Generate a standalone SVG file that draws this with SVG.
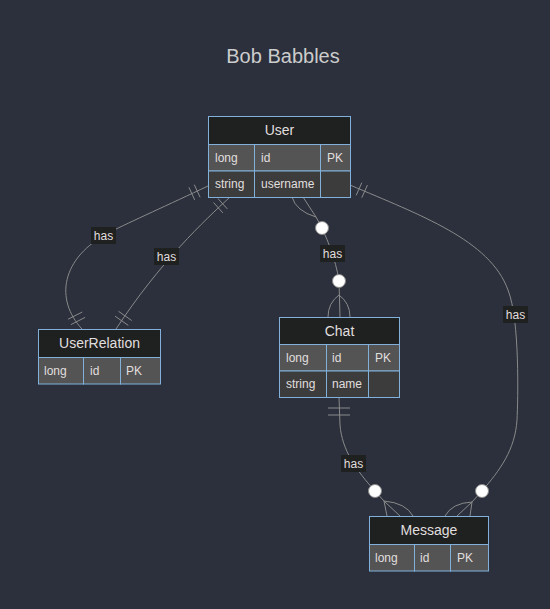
<svg xmlns="http://www.w3.org/2000/svg" width="550" height="609" viewBox="0 0 550 609">
<style>
.bg{fill:#2b303c}
.title{font-family:"Liberation Sans",Arial,sans-serif;font-size:20px;fill:#cccccc;text-anchor:middle}
.hdr{fill:#1f2020;stroke:#81b1db;stroke-width:1}
.r1{fill:#545454;stroke:#81b1db;stroke-width:1}
.r2{fill:#3c3c3c;stroke:#81b1db;stroke-width:1}
.hname{font-family:"Liberation Sans",Arial,sans-serif;font-size:14px;fill:#e0dfdf;text-anchor:middle}
.cell{font-family:"Liberation Sans",Arial,sans-serif;font-size:12px;fill:#e0dfdf}
.ln{fill:none;stroke:#8a8a8a;stroke-width:1}
.circ{fill:#ffffff;stroke:#8a8a8a;stroke-width:1}
.lbg{fill:#1f2020}
.lbl{font-family:"Liberation Sans",Arial,sans-serif;font-size:12px;fill:#e0dfdf;text-anchor:middle}
</style>
<rect class="bg" x="0" y="0" width="550" height="609"/>
<text class="title" x="283" y="63">Bob Babbles</text>

<g id="connectors">
  <!-- User -> UserRelation (left) -->
  <path class="ln" d="M208,186 C170,204 130,222 110,232 C60,258 55,300 82,329"/>
  <path class="ln" d="M194.3,184.7 L200.1,197.3 M188.9,187.3 L194.7,199.9"/>
  <path class="ln" d="M70.9,324.6 L85.1,317.4 M68.1,319.2 L82.3,312"/>
  <!-- User -> UserRelation (right) -->
  <path class="ln" d="M230,197 C205,220 160,262 116,329"/>
  <path class="ln" d="M217.9,198.5 L227.3,208.9 M213.5,202.5 L222.9,212.9"/>
  <path class="ln" d="M115.1,316.2 L128.3,325.4 M118.5,311.3 L131.7,320.5"/>
  <!-- User -> Chat -->
  <path class="ln" d="M303,197 L316,217 C326,234 336,260 339,281 L340,317"/>
  <path class="ln" d="M292,197 Q296,211 316,217"/>
  <path class="ln" d="M339,295 Q328,303 328,317 M339,295 Q350,303 350,317"/>
  <!-- Chat -> Message -->
  <path class="ln" d="M339,397 L340,425 C342,450 356,470 375,491 L384,501"/>
  <path class="ln" d="M328,408 L350,408 M328,415 L350,415"/>
  <path class="ln" d="M384,501 L387,516 M384,501 L400,516 M384,501 Q406,503 413,516"/>
  <!-- User -> Message (right) -->
  <path class="ln" d="M350,185 C420,215 490,240 508,290 C520,320 518,400 517,420 C515,450 500,470 482,491 L472,502"/>
  <path class="ln" d="M356.2,195.3 L361.8,182.7 M361.8,197.7 L367.4,185.1"/>
  <path class="ln" d="M472,502 Q452,503 445,516 M472,502 L457,516 M472,502 L470,516"/>
  <!-- circles -->
  <circle class="circ" cx="322" cy="228" r="6.5"/>
  <circle class="circ" cx="339" cy="281" r="6.5"/>
  <circle class="circ" cx="375" cy="491" r="6.5"/>
  <circle class="circ" cx="482" cy="491" r="6.5"/>
  <!-- labels -->
  <rect class="lbg" x="91" y="227" width="25" height="17"/>
  <text class="lbl" x="103.5" y="240">has</text>
  <rect class="lbg" x="154" y="248" width="25" height="17"/>
  <text class="lbl" x="166.5" y="261">has</text>
  <rect class="lbg" x="320" y="245" width="25" height="17"/>
  <text class="lbl" x="332.5" y="258">has</text>
  <rect class="lbg" x="341" y="455" width="25" height="17"/>
  <text class="lbl" x="353.5" y="468">has</text>
  <rect class="lbg" x="503" y="306" width="25" height="17"/>
  <text class="lbl" x="515.5" y="319">has</text>
</g>

<g id="User">
  <rect class="hdr" x="208.5" y="116.5" width="142" height="28"/>
  <text class="hname" x="279.5" y="135">User</text>
  <rect class="r1" x="208.5" y="144.5" width="46" height="26.5"/>
  <rect class="r1" x="254.5" y="144.5" width="66" height="26.5"/>
  <rect class="r1" x="320.5" y="144.5" width="30" height="26.5"/>
  <rect class="r2" x="208.5" y="171" width="46" height="26.5"/>
  <rect class="r2" x="254.5" y="171" width="66" height="26.5"/>
  <rect class="r2" x="320.5" y="171" width="30" height="26.5"/>
  <text class="cell" x="215" y="162">long</text>
  <text class="cell" x="261" y="162">id</text>
  <text class="cell" x="327" y="162">PK</text>
  <text class="cell" x="215" y="188">string</text>
  <text class="cell" x="261" y="188">username</text>
</g>

<g id="UserRelation">
  <rect class="hdr" x="38.5" y="329.5" width="122" height="28"/>
  <text class="hname" x="99.5" y="348">UserRelation</text>
  <rect class="r1" x="38.5" y="357.5" width="45" height="26.5"/>
  <rect class="r1" x="83.5" y="357.5" width="37" height="26.5"/>
  <rect class="r1" x="120.5" y="357.5" width="40" height="26.5"/>
  <text class="cell" x="44" y="375">long</text>
  <text class="cell" x="90" y="375">id</text>
  <text class="cell" x="126" y="375">PK</text>
</g>

<g id="Chat">
  <rect class="hdr" x="279.5" y="317.5" width="120" height="27"/>
  <text class="hname" x="339.5" y="335.5">Chat</text>
  <rect class="r1" x="279.5" y="344.5" width="47" height="26.5"/>
  <rect class="r1" x="326.5" y="344.5" width="42" height="26.5"/>
  <rect class="r1" x="368.5" y="344.5" width="31" height="26.5"/>
  <rect class="r2" x="279.5" y="371" width="47" height="26.5"/>
  <rect class="r2" x="326.5" y="371" width="42" height="26.5"/>
  <rect class="r2" x="368.5" y="371" width="31" height="26.5"/>
  <text class="cell" x="286" y="361.5">long</text>
  <text class="cell" x="332" y="361.5">id</text>
  <text class="cell" x="375" y="361.5">PK</text>
  <text class="cell" x="286" y="388">string</text>
  <text class="cell" x="332" y="388">name</text>
</g>

<g id="Message">
  <rect class="hdr" x="369.5" y="516.5" width="119" height="28"/>
  <text class="hname" x="429" y="535">Message</text>
  <rect class="r1" x="369.5" y="544.5" width="45" height="26.5"/>
  <rect class="r1" x="414.5" y="544.5" width="36" height="26.5"/>
  <rect class="r1" x="450.5" y="544.5" width="38" height="26.5"/>
  <text class="cell" x="375" y="562">long</text>
  <text class="cell" x="420" y="562">id</text>
  <text class="cell" x="457" y="562">PK</text>
</g>
</svg>
